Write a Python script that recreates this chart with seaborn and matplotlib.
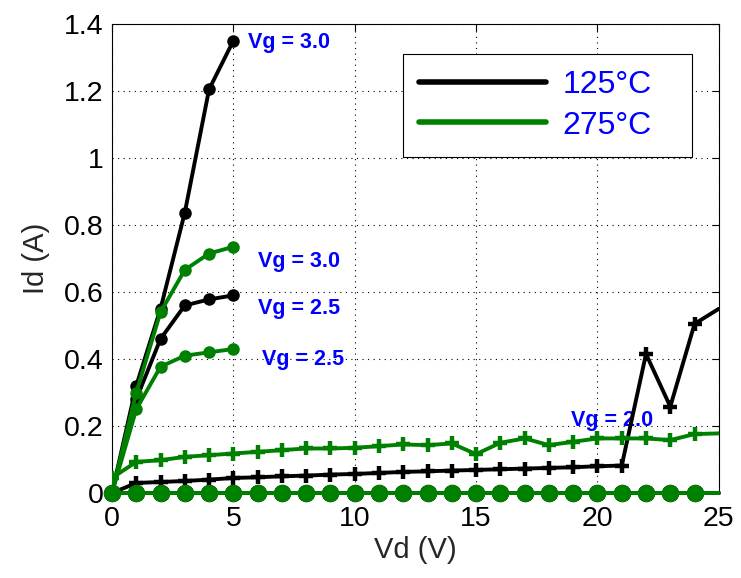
import numpy as np
import pandas as pd
import matplotlib
matplotlib.use("Agg")
import matplotlib.pyplot as plt
from matplotlib.lines import Line2D
import seaborn as sns

# Drain voltage sweeps
vd_short = [0, 1, 2, 3, 4, 5]
vd_long = list(range(0, 26))

# 125 °C drain current (A)
id_125_vg30 = [0.0, 0.32, 0.55, 0.837, 1.205, 1.35]
id_125_vg25 = [0.0, 0.28, 0.46, 0.56, 0.578, 0.59]
id_125_vg20 = [0.0, 0.03, 0.033, 0.036, 0.040, 0.045, 0.047, 0.050, 0.052, 0.055,
               0.057, 0.060, 0.063, 0.065, 0.067, 0.069, 0.071, 0.073, 0.075, 0.077,
               0.080, 0.082, 0.415, 0.258, 0.505, 0.55]
id_125_vg15 = [0.0] * 26

# 275 °C drain current (A)
id_275_vg30 = [0.0, 0.30, 0.54, 0.666, 0.715, 0.735]
id_275_vg25 = [0.0, 0.25, 0.377, 0.41, 0.42, 0.43]
id_275_vg20 = [0.045, 0.093, 0.098, 0.108, 0.113, 0.118, 0.123, 0.128, 0.133, 0.133,
               0.135, 0.140, 0.145, 0.143, 0.148, 0.116, 0.150, 0.163, 0.143, 0.153,
               0.163, 0.163, 0.163, 0.158, 0.176, 0.178]
id_275_vg15 = [0.0] * 26

temps = ["125\u00b0C", "275\u00b0C"]
temp_colors = ["black", "#008000"]

labels = ["Vg = 3.0", "Vg = 3.0", "Vg = 2.5", "Vg = 2.5", "Vg = 2.0"]
label_x = [5.6, 6.0, 6.0, 6.2, 18.9]
label_y = [1.345, 0.69, 0.552, 0.398, 0.218]

sns.set_style("white")
plt.rcParams["font.family"] = ["Liberation Sans", "DejaVu Sans"]

fig = plt.figure(figsize=(7.41, 5.78), dpi=100)
ax = fig.add_axes([0.1511, 0.147, 0.819, 0.8114])

lw = 2.8


def draw(x, y, color, marker, ms, mew=1.0, markevery=None, clip=True):
    sns.lineplot(x=x, y=y, ax=ax, color=color, linewidth=lw, marker=marker,
                 markersize=ms, markeredgewidth=mew, markeredgecolor=color,
                 markerfacecolor=color, sort=False, estimator=None,
                 markevery=markevery, clip_on=clip, zorder=3)


skip_last = list(range(0, 25))

# 125 °C family
draw(vd_long, id_125_vg15, "black", "o", 11.5, markevery=skip_last, clip=False)
draw(vd_short, id_125_vg30, "black", "o", 8)
draw(vd_short, id_125_vg25, "black", "o", 8)
draw(vd_long, id_125_vg20, "black", "+", 10, mew=3.2, markevery=skip_last)

# 275 °C family
draw(vd_short, id_275_vg30, "#008000", "o", 8)
draw(vd_short, id_275_vg25, "#008000", "o", 8)
draw(vd_long, id_275_vg20, "#008000", "+", 10, mew=3.2, markevery=skip_last)
draw(vd_long, id_275_vg15, "#008000", "o", 11.5, markevery=skip_last, clip=False)

for t, tx, ty in zip(labels, label_x, label_y):
    ax.text(tx, ty, t, color="#0000FF", fontsize=15.5, fontweight="bold",
            ha="left", va="center", zorder=2)

ax.set_xlim(0, 25)
ax.set_ylim(0, 1.4)
ax.set_xticks([0, 5, 10, 15, 20, 25])
ax.set_yticks([0, 0.2, 0.4, 0.6, 0.8, 1.0, 1.2, 1.4])
ax.set_yticklabels(["0", "0.2", "0.4", "0.6", "0.8", "1", "1.2", "1.4"])
ax.tick_params(direction="in", length=5, width=0.8, labelsize=20.5,
               top=True, right=True, colors="black")
ax.tick_params(axis="x", pad=9)
ax.tick_params(axis="y", pad=6)
ax.grid(True, color="black", linestyle=(0, (1, 4)), linewidth=0.8, zorder=1)
ax.set_axisbelow(True)
for s in ax.spines.values():
    s.set_visible(True)
    s.set_color("black")
    s.set_linewidth(0.8)

ax.set_xlabel("Vd (V)", fontsize=21, labelpad=3)
ax.set_ylabel("Id (A)", fontsize=21, labelpad=10)

handles = [Line2D([0], [0], color=c, linewidth=4) for c in temp_colors]
leg = ax.legend(handles, temps, loc="upper left",
                bbox_to_anchor=(0.479, 0.736, 0.476, 0.2), mode="expand",
                fontsize=23, frameon=True, fancybox=False, handlelength=4.0,
                handletextpad=0.5, borderpad=0.5, labelspacing=0.33,
                borderaxespad=0)
leg.get_frame().set_edgecolor("black")
leg.get_frame().set_linewidth(0.8)
leg.get_frame().set_alpha(1)
for txt in leg.get_texts():
    txt.set_color("#0000FF")

fig.savefig("out.png", dpi=100)
